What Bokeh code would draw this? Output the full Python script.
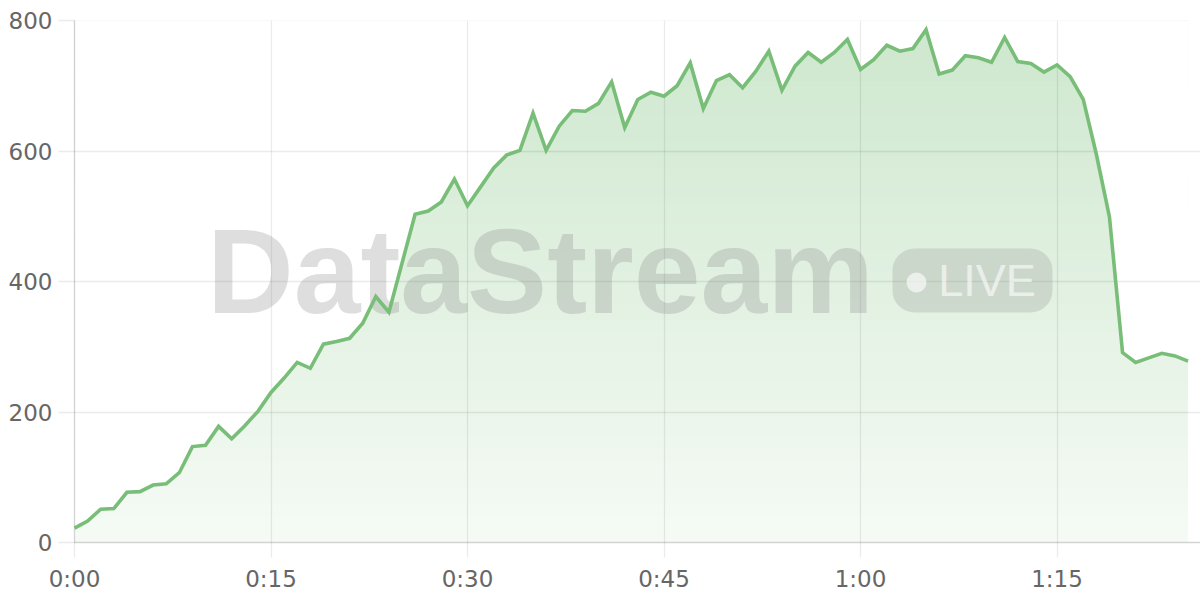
import numpy as np
from bokeh.plotting import figure
from bokeh.models import Range1d, FixedTicker, Label, BoxAnnotation
from bokeh.embed import file_html
from bokeh.resources import INLINE

# ---- data (minutes since start, value) ----
minutes = list(range(86))
values = [22, 33, 51, 52, 77, 78, 88, 90, 107, 147,
          149, 178, 159, 179, 201, 230, 252, 276, 267, 304,
          308, 313, 336, 377, 353, 428, 503, 508, 522, 557,
          516, 545, 574, 594, 601, 658, 601, 638, 662, 661,
          673, 706, 636, 679, 690, 684, 700, 735, 665, 708,
          717, 697, 722, 753, 693, 730, 751, 736, 751, 771,
          725, 740, 762, 753, 757, 786, 718, 724, 746, 743,
          736, 774, 737, 734, 721, 732, 714, 679, 595, 499,
          291, 276, 283, 290, 286, 278]
x_tick_minutes = [0, 15, 30, 45, 60, 75]
x_tick_labels = ["0:00", "0:15", "0:30", "0:45", "1:00", "1:15"]
y_ticks = [0, 200, 400, 600, 800]

# ---- style ----
LINE_COLOR = "#78be78"
GREEN_RGB = (120, 190, 120)
TICK_FONT = "DejaVu Sans"
TICK_COLOR = "#666666"

X0, X1 = 0, 85.95
Y0, Y1 = 0, 800

p = figure(width=1200, height=600, x_range=Range1d(X0, X1), y_range=Range1d(Y0, Y1),
           output_backend="svg", toolbar_location=None,
           min_border_left=74, min_border_right=0, min_border_top=20, min_border_bottom=58)
p.outline_line_color = None
p.background_fill_color = "white"
p.border_fill_color = "white"

# frame geometry (screenshot pixels) used to place the watermark
FL, FR, FT, FB = 74, 1200, 20, 542
def sx(px):
    return X0 + (px - FL) / (FR - FL) * (X1 - X0)
def sy(py):
    return Y0 + (FB - py) / (FB - FT) * (Y1 - Y0)

# ---- gradient fill: vertical gradient image, masked above the line ----
n = 256
frac = (np.arange(n) + 0.5) / n
alpha = 0.07 + 0.30 * frac
rgba = np.zeros((n, 1, 4), dtype=np.uint8)
rgba[:, 0, 0] = GREEN_RGB[0]
rgba[:, 0, 1] = GREEN_RGB[1]
rgba[:, 0, 2] = GREEN_RGB[2]
rgba[:, 0, 3] = np.round(alpha * 255).astype(np.uint8)
img = rgba.view(dtype=np.uint32).reshape((n, 1))
p.image_rgba(image=[img], x=minutes[0], y=Y0, dw=minutes[-1] - minutes[0], dh=Y1 - Y0,
             level="image")
p.varea(x=minutes, y1=values, y2=Y1, fill_color="white", fill_alpha=1.0, level="image")

# ---- grid ----
p.xgrid.ticker = FixedTicker(ticks=x_tick_minutes)
p.ygrid.ticker = FixedTicker(ticks=y_ticks)
for g in (p.xgrid, p.ygrid):
    g.grid_line_color = "black"
    g.grid_line_alpha = 0.08
    g.grid_line_width = 1.3

# ---- axes ----
xa = p.xaxis[0]
xa.ticker = FixedTicker(ticks=x_tick_minutes)
xa.major_label_overrides = {m: l for m, l in zip(x_tick_minutes, x_tick_labels)}
ya = p.yaxis[0]
ya.ticker = FixedTicker(ticks=y_ticks)
for ax in (xa, ya):
    ax.axis_line_color = "#000000"
    ax.axis_line_alpha = 0.17
    ax.axis_line_width = 1.3
    ax.major_tick_line_color = "#000000"
    ax.major_tick_line_alpha = 0.08
    ax.major_tick_line_width = 1.3
    ax.major_tick_in = 0
    ax.minor_tick_line_color = None
    ax.major_label_text_font = TICK_FONT
    ax.major_label_text_font_size = "23px"
    ax.major_label_text_color = TICK_COLOR
xa.major_tick_out = 15
xa.major_label_standoff = 8
ya.major_tick_out = 16
ya.major_label_standoff = 6

# ---- watermark ----
badge = BoxAnnotation(left=sx(892), right=sx(1052), top=sy(248), bottom=sy(312),
                      fill_color="#888888", fill_alpha=0.24, line_color=None,
                      border_radius=22)
dot = BoxAnnotation(left=sx(906), right=sx(926), top=sy(272), bottom=sy(292),
                    fill_color="white", fill_alpha=0.62, line_color=None,
                    border_radius=10)
p.add_layout(badge)
p.add_layout(dot)
p.add_layout(Label(x=sx(540), y=sy(270), text="DataStream", text_align="center",
                   text_baseline="alphabetic", text_font="Liberation Sans",
                   text_font_style="bold", text_font_size="120px",
                   text_color="#888888", text_alpha=0.28))
p.add_layout(Label(x=sx(986.5), y=sy(280), text="LIVE", text_align="center",
                   text_baseline="alphabetic", text_font="Liberation Sans",
                   text_font_style="normal", text_font_size="45px",
                   text_color="white", text_alpha=0.62))

# ---- line ----
p.line(minutes, values, line_color=LINE_COLOR, line_width=3.6, line_join="miter",
       level="overlay")

open("out.html", "w").write(file_html(p, INLINE))
